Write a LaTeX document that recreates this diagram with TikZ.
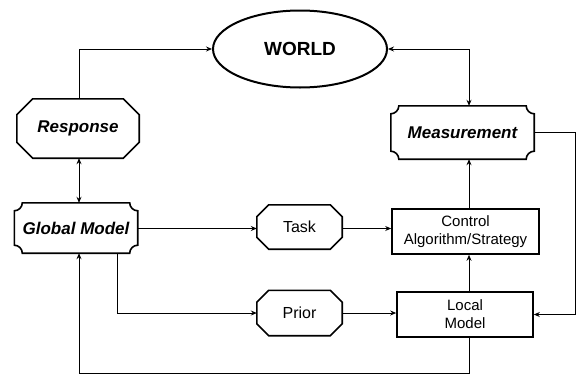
\documentclass[tikz,border=0pt]{standalone}
\usepackage{fontspec}
\setmainfont{Liberation Sans}
\usetikzlibrary{shapes.geometric,arrows.meta}
\tikzset{
  x=1pt,y=1pt,
  conn/.style={line width=0.9pt},
  arr/.style={conn,-{Stealth[length=6pt,width=5pt]}},
  dbl/.style={conn,{Stealth[length=6pt,width=5pt]}-{Stealth[length=6pt,width=5pt]}},
  border/.style={line width=1.6pt,line join=miter},
  txt/.style={inner sep=0pt,align=center},
  emph/.style={font=\fontsize{17}{19}\selectfont\bfseries\itshape},
  plain/.style={font=\fontsize{15}{18}\selectfont},
}
\begin{document}
\begin{tikzpicture}
\useasboundingbox (0,0) rectangle (577,-375);
% nodes
\node[ellipse,draw,line width=2pt,minimum width=174pt,minimum height=77pt,inner sep=0pt,font=\fontsize{19}{21}\selectfont\bfseries] (world) at (300,-49) {WORLD};
\node[txt,emph,minimum width=122pt,minimum height=59pt] (resp) at (78,-128.5) {Response};
\node[txt,emph,minimum width=143pt,minimum height=53pt] (meas) at (462.5,-132.5) {Measurement};
\node[txt,emph,minimum width=123pt,minimum height=50pt] (glob) at (76,-228) {Global Model};
\node[txt,plain,font=\fontsize{16}{18}\selectfont,minimum width=85pt,minimum height=44pt] (task) at (299.5,-227) {Task};
\node[txt,plain,font=\fontsize{16}{18}\selectfont,minimum width=85pt,minimum height=45pt] (prior) at (299.5,-313) {Prior};
\node[txt,plain,draw,border,minimum width=147pt,minimum height=45pt] (ctrl) at (465.5,-231.5) {Control\\Algorithm/Strategy};
\node[txt,plain,draw,border,minimum width=136pt,minimum height=45pt] (local) at (465,-314.5) {Local\\Model};
% chamfered borders
\foreach \n/\c in {resp/16,task/12,prior/12}{
  \draw[border] ([xshift=\c pt]\n.north west) -- ([xshift=-\c pt]\n.north east)
    -- ([yshift=-\c pt]\n.north east) -- ([yshift=\c pt]\n.south east)
    -- ([xshift=-\c pt]\n.south east) -- ([xshift=\c pt]\n.south west)
    -- ([yshift=\c pt]\n.south west) -- ([yshift=-\c pt]\n.north west) -- cycle;
}
% scooped borders
\foreach \n in {meas,glob}{
  \draw[border] ([xshift=8pt]\n.north west) -- ([xshift=-8pt]\n.north east)
    arc[start angle=180,end angle=270,radius=8pt]
    -- ([yshift=8pt]\n.south east)
    arc[start angle=90,end angle=180,radius=8pt]
    -- ([xshift=8pt]\n.south west)
    arc[start angle=0,end angle=90,radius=8pt]
    -- ([yshift=-8pt]\n.north west)
    arc[start angle=270,end angle=360,radius=8pt] -- cycle;
}
% helper coordinates
\coordinate (vx) at (469,0);
\coordinate (rx) at (575,0);
\coordinate (gx) at (117,0);
\coordinate (lx) at (79,0);
\coordinate (by) at (0,-373);
\coordinate (ty) at (0,-228.5);
% connectors
\draw[arr] (lx |- resp.north) |- (world.west);
\draw[dbl] (world.east) -| (vx |- meas.north);
\draw[arr] (meas.east) -| (rx |- local.east) -- (local.east);
\draw[dbl] (lx |- resp.south) -- (lx |- glob.north);
\draw[arr] (glob.east |- ty) -- (task.west |- ty);
\draw[arr] (gx |- glob.south) |- (prior.west);
\draw[arr] (task.east |- ty) -- (ctrl.west |- ty);
\draw[arr] (prior.east) -- (prior.east -| local.west);
\draw[arr] (vx |- local.north) -- (vx |- ctrl.south);
\draw[arr] (vx |- ctrl.north) -- (vx |- meas.south);
\draw[arr] (vx |- local.south) -- (vx |- by) -- (lx |- by) -- (lx |- glob.south);
\end{tikzpicture}
\end{document}
